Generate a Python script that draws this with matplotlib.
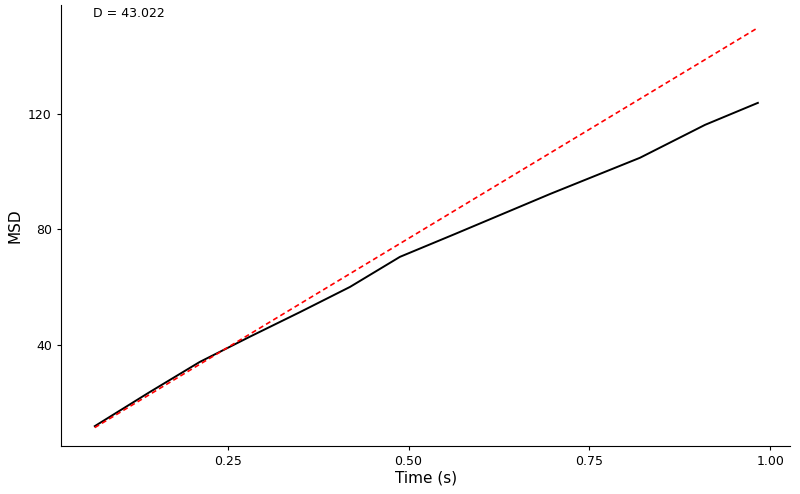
import matplotlib.pyplot as plt

# MSD curve
time_s = [0.066, 0.142, 0.211, 0.280, 0.350, 0.419, 0.488, 0.564, 0.696, 0.820, 0.910, 0.983]
msd = [11.9, 23.7, 34.1, 42.8, 51.4, 60.1, 70.5, 78.4, 92.3, 104.8, 116.2, 123.8]
# linear fit line
fit_t = [0.066, 0.983]
fit_msd = [11.4, 149.8]
d_label = 'D = 43.022'

fig = plt.figure(figsize=(8, 4.94), dpi=100)
ax = fig.add_axes([0.076, 0.097, 0.912, 0.893])
ax.plot(time_s, msd, color='black', lw=1.4)
ax.plot(fit_t, fit_msd, color='red', lw=1.2, ls=(0, (3, 2)))
ax.text(0.063, 154.6, d_label, fontsize=9, va='center', ha='left')

ax.set_xlim(0.019, 1.028)
ax.set_ylim(5.0, 157.7)
ax.set_xticks([0.25, 0.50, 0.75, 1.00])
ax.set_xticklabels(['0.25', '0.50', '0.75', '1.00'])
ax.set_yticks([40, 80, 120])
ax.tick_params(labelsize=9, length=3)
ax.set_xlabel('Time (s)', fontsize=11, labelpad=2)
ax.set_ylabel('MSD', fontsize=11)
for s in ['top', 'right']:
    ax.spines[s].set_visible(False)

fig.savefig('out.png', dpi=100)
